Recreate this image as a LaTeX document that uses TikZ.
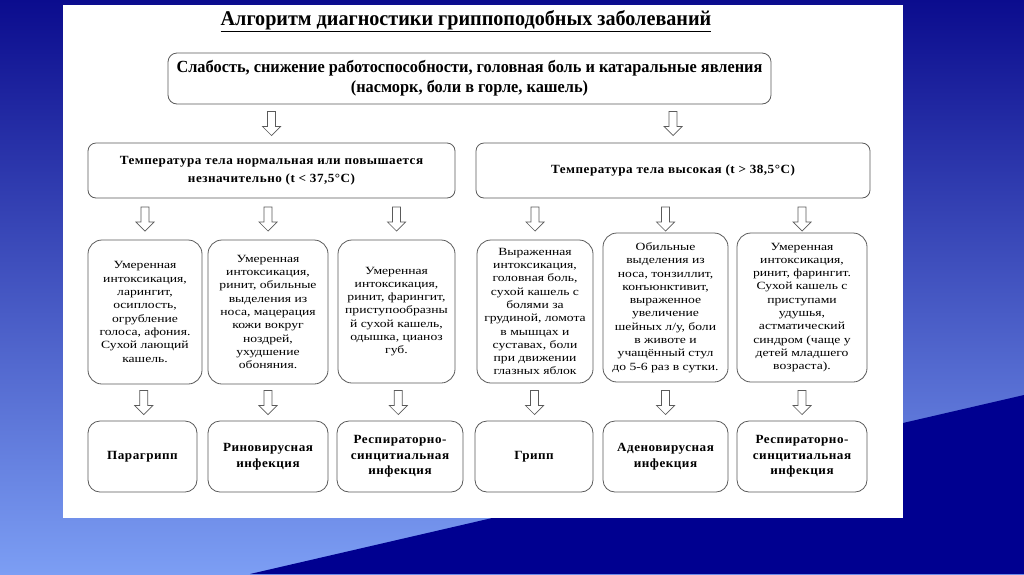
\documentclass[tikz,border=0pt]{standalone}
\usepackage{fontspec}
\setmainfont{Liberation Serif}
\newfontfamily\widefont{Liberation Serif}[FakeStretch=1.24]
\newfontfamily\spacedfont{Liberation Serif}[FakeStretch=1.05, LetterSpace=4]
\newfontfamily\narrowfont{Liberation Serif}[FakeStretch=0.96]
\usetikzlibrary{calc}

\definecolor{bgtop}{HTML}{0B0C8E}
\definecolor{bgbot}{HTML}{7C9EF4}
\definecolor{bgdark}{HTML}{000090}
\definecolor{boxgray}{HTML}{5A5A5A}

\begin{document}
\begin{tikzpicture}[
    x=1pt, y=-1pt,
    line width=0.8pt,
    box/.style={draw=boxgray, fill=white, rounded corners=9pt, align=center, inner sep=2pt},
    headbox/.style={box, font=\narrowfont\bfseries\fontsize{17}{20}\selectfont},
    tempbox/.style={box, rounded corners=8pt, font=\spacedfont\bfseries\fontsize{12.5}{18}\selectfont},
    signbox/.style={box, rounded corners=14pt, font=\widefont\fontsize{11}{13.3}\selectfont},
    diagbox/.style={box, rounded corners=12pt, minimum height=71pt, font=\spacedfont\bfseries\fontsize{12.5}{15.5}\selectfont},
    harrow/.style={draw=boxgray, fill=white, line width=0.7pt, line join=miter,
      to path={($(\tikztostart)!0.5!(\tikztotarget)$) ++(-4,-12) -- ++(8,0) -- ++(0,15)
        -- ++(5,0) -- ++(-9,9) -- ++(-9,-9) -- ++(5,0) -- cycle}}
  ]
  % --- background ---
  \useasboundingbox (0,0) rectangle (1024,574);
  \shade[top color=bgtop, bottom color=bgbot] (0,0) rectangle (1024,574);
  \fill[bgdark] (250,574) -- (1024,395) -- (1024,574) -- cycle;
  \fill[white] (63,5) rectangle (903,518);

  % --- title and top box ---
  \node[font=\narrowfont\bfseries\fontsize{21}{24}\selectfont] (title) at (466,21)
    {\underline{Алгоритм диагностики гриппоподобных заболеваний}};
  \node[headbox, minimum width=603pt, minimum height=51pt] (top) at (469.5,78.5)
    {Слабость, снижение работоспособности, головная боль и катаральные явления\\
     (насморк, боли в горле, кашель)};

  % --- temperature ---
  \node[tempbox, minimum width=367pt, minimum height=55pt] (low) at (271.5,170.5)
    {Температура тела нормальная или повышается\\незначительно (t < 37,5°C)};
  \node[tempbox, minimum width=394pt, minimum height=55pt] (high) at (673,170.5)
    {Температура тела высокая (t > 38,5°C)};

  % --- signs ---
  \node[signbox, minimum width=114pt, minimum height=144pt] (s1) at (145,312)
    {Умеренная\\интоксикация,\\ларингит,\\осиплость,\\огрубление\\голоса, афония.\\Сухой лающий\\кашель.};
  \node[signbox, minimum width=120pt, minimum height=144pt] (s2) at (268,312)
    {Умеренная\\интоксикация,\\ринит, обильные\\выделения из\\носа, мацерация\\кожи вокруг\\ноздрей,\\ухудшение\\обоняния.};
  \node[signbox, minimum width=117pt, minimum height=143pt] (s3) at (396.5,311.5)
    {Умеренная\\интоксикация,\\ринит, фарингит,\\приступообразны\\й сухой кашель,\\одышка, цианоз\\губ.};
  \node[signbox, minimum width=116pt, minimum height=143pt] (s4) at (535,311.5)
    {Выраженная\\интоксикация,\\головная боль,\\сухой кашель с\\болями за\\грудиной, ломота\\в мышцах и\\суставах, боли\\при движении\\глазных яблок};
  \node[signbox, minimum width=125pt, minimum height=149pt] (s5) at (665.5,307.5)
    {Обильные\\выделения из\\носа, тонзиллит,\\конъюнктивит,\\выраженное\\увеличение\\шейных л/у, боли\\в животе и\\учащённый стул\\до 5-6 раз в сутки.};
  \node[signbox, minimum width=130pt, minimum height=149pt] (s6) at (802,307.5)
    {Умеренная\\интоксикация,\\ринит, фарингит.\\Сухой кашель с\\приступами\\удушья,\\астматический\\синдром (чаще у\\детей младшего\\возраста).};

  % --- diagnoses ---
  \node[diagbox, minimum width=109pt] (d1) at (142.5,456.5) {Парагрипп};
  \node[diagbox, minimum width=120pt] (d2) at (268,456.5) {Риновирусная\\инфекция};
  \node[diagbox, minimum width=126pt] (d3) at (400,456.5) {Респираторно-\\синцитиальная\\инфекция};
  \node[diagbox, minimum width=118pt] (d4) at (534,456.5) {Грипп};
  \node[diagbox, minimum width=125pt] (d5) at (665.5,456.5) {Аденовирусная\\инфекция};
  \node[diagbox, minimum width=130pt] (d6) at (802,456.5) {Респираторно-\\синцитиальная\\инфекция};

  % --- arrows ---
  \draw[harrow] (top.south -| low) to (low.north);
  \draw[harrow] (top.south -| high) to (high.north);
  \foreach \s in {s1,s2,s3} \draw[harrow] (low.south -| \s) to (\s.north |- s1.north);
  \foreach \s in {s4,s5,s6} \draw[harrow] (high.south -| \s) to (\s.north |- s4.north);
  \foreach \s/\d in {s1/d1,s2/d2,s3/d3,s4/d4,s5/d5,s6/d6}
    \draw[harrow] (\s.south |- s1.south) to (\d.north);
\end{tikzpicture}
\end{document}
